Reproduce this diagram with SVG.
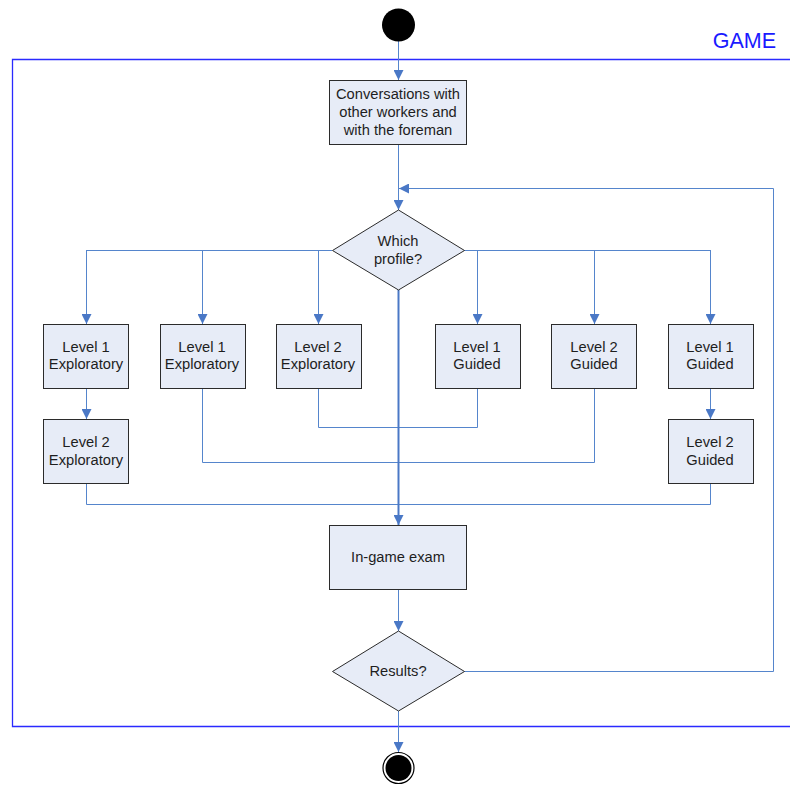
<svg xmlns="http://www.w3.org/2000/svg" width="790" height="785" viewBox="0 0 790 785">
<defs>
<marker id="arr" viewBox="0 0 10 10" refX="10" refY="5" markerWidth="10" markerHeight="10" markerUnits="userSpaceOnUse" orient="auto">
<path d="M0,0 L10,5 L0,10 z" fill="#4a78c6"/>
</marker>
<style>
.box{fill:#e7ecf7;stroke:#2b2b2b;stroke-width:1}
.t{font-family:"Liberation Sans",Arial,sans-serif;font-size:14.7px;fill:#1e1e1e;text-anchor:middle}
.c{fill:none;stroke:#5585cc;stroke-width:1}
.ca{fill:none;stroke:#5585cc;stroke-width:1;marker-end:url(#arr)}
.frame{fill:none;stroke:#2a2aff;stroke-width:1.3}
</style>
</defs>
<rect width="790" height="785" fill="#ffffff"/>
<g id="frame">
<path class="frame" d="M790,59.5 H12.5 V726.5 H790"/>
<text x="776" y="48" font-family="'Liberation Sans',Arial,sans-serif" font-size="21.5" fill="#1a1aff" text-anchor="end">GAME</text>
</g>
<g id="connectors">
<line class="ca" x1="398.5" y1="41" x2="398.5" y2="80"/>
<line class="ca" x1="398.5" y1="144" x2="398.5" y2="210"/>
<path class="ca" d="M464,671.5 H773.5 V188.5 H399"/>
<path class="c" d="M332,250.5 H86.5"/>
<path class="c" d="M464,250.5 H710.5"/>
<line class="ca" x1="86.5" y1="250" x2="86.5" y2="324"/>
<line class="ca" x1="202.5" y1="250" x2="202.5" y2="324"/>
<line class="ca" x1="318.5" y1="250" x2="318.5" y2="324"/>
<line class="ca" x1="477.5" y1="250" x2="477.5" y2="324"/>
<line class="ca" x1="594.5" y1="250" x2="594.5" y2="324"/>
<line class="ca" x1="710.5" y1="250" x2="710.5" y2="324"/>
<line class="ca" x1="86.5" y1="388" x2="86.5" y2="419"/>
<line class="ca" x1="710.5" y1="388" x2="710.5" y2="419"/>
<path class="c" d="M318.5,388 V427.5 H477.5 V388"/>
<path class="c" d="M202.5,388 V462.5 H594.5 V388"/>
<path class="c" d="M86.5,483 V504.5 H710.5 V483"/>
<line x1="398.5" y1="290" x2="398.5" y2="525" stroke="#4a78c6" stroke-width="2" marker-end="url(#arr)"/>
<line class="ca" x1="398.5" y1="589" x2="398.5" y2="631"/>
<line class="ca" x1="398.5" y1="711" x2="398.5" y2="752"/>
</g>
<g id="start"><circle cx="398.5" cy="25" r="16.5" fill="#000"/></g>
<g id="conversations">
<rect class="box" x="329.5" y="80.5" width="137" height="64"/>
<text class="t" x="398" y="99">Conversations with</text>
<text class="t" x="398" y="117">other workers and</text>
<text class="t" x="398" y="135">with the foreman</text>
</g>
<g id="which-profile">
<polygon class="box" points="398.5,210 464.5,250.5 398.5,290 332.5,250.5"/>
<text class="t" x="398" y="246">Which</text>
<text class="t" x="398" y="264">profile?</text>
</g>
<g id="l1-exploratory-a">
<rect class="box" x="43.5" y="324.5" width="85" height="64"/>
<text class="t" x="86" y="352">Level 1</text>
<text class="t" x="86" y="369">Exploratory</text>
</g>
<g id="l2-exploratory-a">
<rect class="box" x="43.5" y="419.5" width="85" height="64"/>
<text class="t" x="86" y="447">Level 2</text>
<text class="t" x="86" y="465">Exploratory</text>
</g>
<g id="l1-exploratory-b">
<rect class="box" x="160.5" y="324.5" width="85" height="64"/>
<text class="t" x="202" y="352">Level 1</text>
<text class="t" x="202" y="369">Exploratory</text>
</g>
<g id="l2-exploratory-b">
<rect class="box" x="276.5" y="324.5" width="85" height="64"/>
<text class="t" x="318" y="352">Level 2</text>
<text class="t" x="318" y="369">Exploratory</text>
</g>
<g id="l1-guided-a">
<rect class="box" x="435.5" y="324.5" width="85" height="64"/>
<text class="t" x="477" y="352">Level 1</text>
<text class="t" x="477" y="369">Guided</text>
</g>
<g id="l2-guided-a">
<rect class="box" x="551.5" y="324.5" width="85" height="64"/>
<text class="t" x="594" y="352">Level 2</text>
<text class="t" x="594" y="369">Guided</text>
</g>
<g id="l1-guided-b">
<rect class="box" x="668.5" y="324.5" width="85" height="64"/>
<text class="t" x="710" y="352">Level 1</text>
<text class="t" x="710" y="369">Guided</text>
</g>
<g id="l2-guided-b">
<rect class="box" x="668.5" y="419.5" width="85" height="64"/>
<text class="t" x="710" y="447">Level 2</text>
<text class="t" x="710" y="465">Guided</text>
</g>
<g id="exam">
<rect class="box" x="329.5" y="525.5" width="137" height="64"/>
<text class="t" x="398" y="562">In-game exam</text>
</g>
<g id="results">
<polygon class="box" points="398.5,631 464.5,671.5 398.5,711 332.5,671.5"/>
<text class="t" x="398" y="676">Results?</text>
</g>
<g id="end">
<circle cx="398.5" cy="768" r="15.5" fill="#fff" stroke="#000" stroke-width="1.2"/>
<circle cx="398.5" cy="768" r="13" fill="#000"/>
</g>
</svg>
